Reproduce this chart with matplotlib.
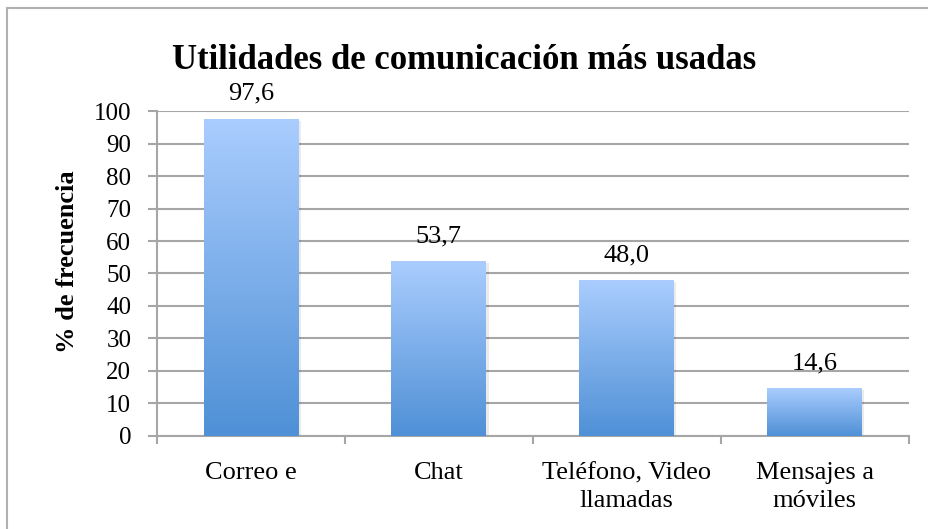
import numpy as np
import matplotlib
matplotlib.use("Agg")
import matplotlib.pyplot as plt
from matplotlib.colors import LinearSegmentedColormap
from matplotlib.patches import Rectangle

# data
categories = ["Correo e", "Chat", "Teléfono, Video\nllamadas", "Mensajes a\nmóviles"]
values = [97.6, 53.7, 48.0, 14.6]
labels = ["97,6", "53,7", "48,0", "14,6"]

plt.rcParams["font.family"] = ["Liberation Serif", "DejaVu Serif"]

fig = plt.figure(figsize=(9.29, 5.29), dpi=100)
ax = fig.add_axes([0.169, 0.176, 0.809, 0.614])

# outer chart frame
fig.patches.append(Rectangle((7 / 929, -0.05), 1.0, 1 - 8 / 529 + 0.05,
                             transform=fig.transFigure, fill=False,
                             edgecolor="#b0b0b0", lw=1.5))

x = np.arange(len(categories))
width = 0.505
grad = LinearSegmentedColormap.from_list("bar", ["#4f90d6", "#aacdfe"])
gimg = np.linspace(0, 1, 256).reshape(-1, 1)

bars = ax.bar(x, values, width=width, color="none", zorder=3)
for b, lab in zip(bars, labels):
    x0, h = b.get_x(), b.get_height()
    # faint shadow
    ax.add_patch(Rectangle((x0 + 0.012, -0.6), width, h, color="#000000",
                           alpha=0.08, zorder=2, lw=0))
    im = ax.imshow(gimg, cmap=grad, origin="lower", aspect="auto",
                   extent=[x0, x0 + width, 0, h], zorder=3)
    im.set_clip_path(b)
    ax.text(b.get_x() + width / 2, h + 4.3, lab, ha="center", va="bottom",
            fontsize=19)

ax.set_xlim(-0.5, len(categories) - 0.5)
ax.set_ylim(0, 100)
ax.set_yticks(range(0, 101, 10))
ax.yaxis.grid(True, color="#a6a6a6", lw=1.5, zorder=0)
ax.set_axisbelow(True)

ax.set_xticks(x)
ax.set_xticklabels(categories, fontsize=19, linespacing=1.35)
ax.tick_params(axis="x", length=0, pad=19)
ax.set_xticks(np.arange(-0.5, len(categories) + 0.5, 1), minor=True)
ax.tick_params(axis="x", which="minor", length=5.5, width=1.5, color="#a6a6a6")
ax.tick_params(axis="y", length=6.5, width=1.5, color="#a6a6a6", labelsize=18, pad=12)

for s in ["top", "right"]:
    ax.spines[s].set_visible(False)
for s in ["left", "bottom"]:
    ax.spines[s].set_color("#a6a6a6")
    ax.spines[s].set_linewidth(1.5)

ax.set_ylabel("% de frecuencia", fontsize=19, fontweight="bold")
ax.yaxis.set_label_coords(-0.104, 0.535)
fig.text(0.5, 0.885, "Utilidades de comunicación más usadas", ha="center",
         va="center", fontsize=25, fontweight="bold")

fig.savefig("out.png", dpi=100)
